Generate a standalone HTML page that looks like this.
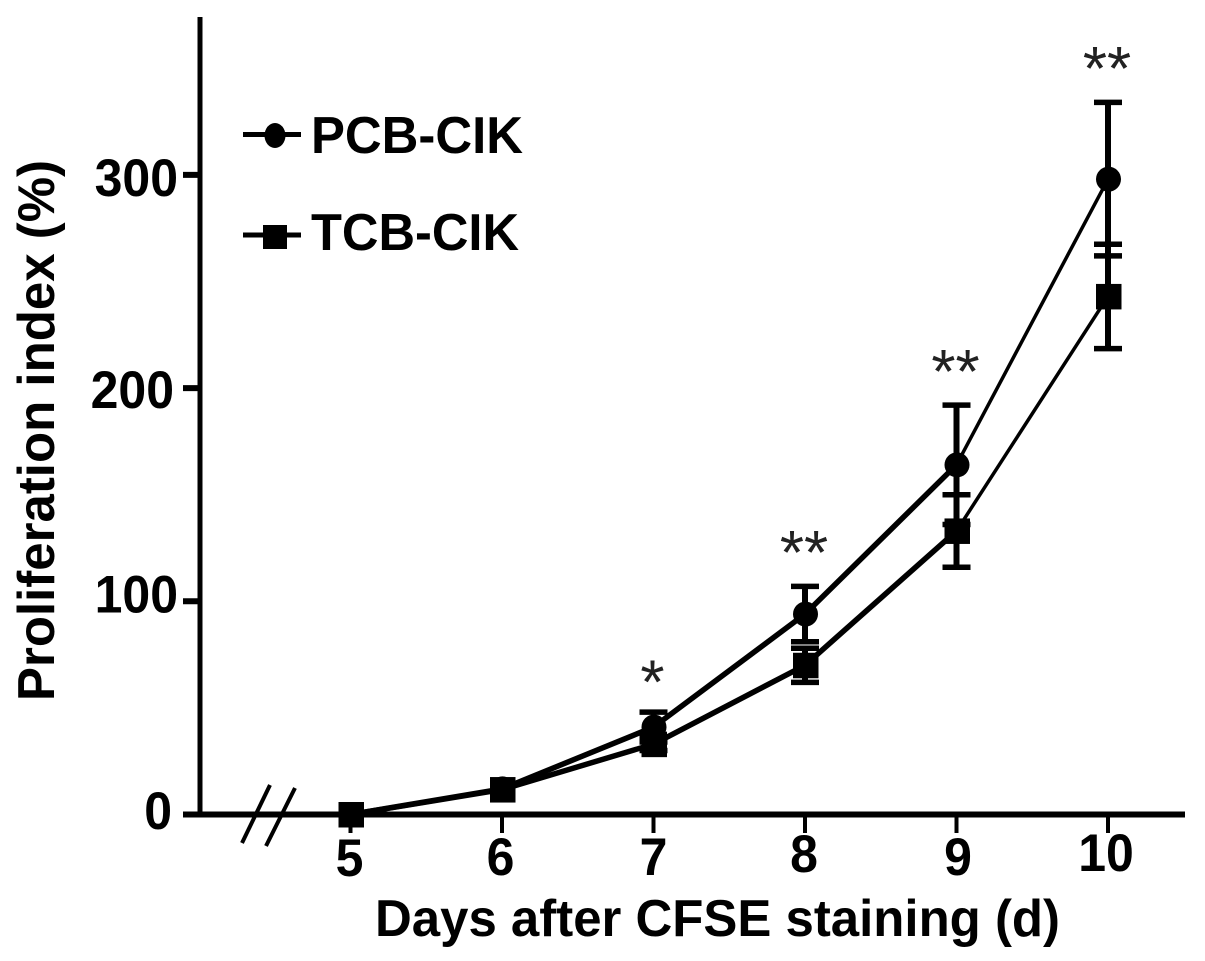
<!DOCTYPE html>
<html lang="en">
<head>
<meta charset="utf-8">
<title>Proliferation index chart</title>
<style>
html,body{margin:0;padding:0;background:#fff;width:1205px;height:961px;overflow:hidden}
svg{display:block}
text{font-family:"Liberation Sans",sans-serif;font-weight:bold;fill:#000}
</style>
</head>
<body>
<svg id="chart" xmlns="http://www.w3.org/2000/svg" width="1205" height="961" viewBox="0 0 1205 961">
  <g id="axes"></g>
  <g id="series"></g>
  <g id="sig"></g>
  <g id="legend">
    <g>
      <line x1="243" y1="134.5" x2="301" y2="134.5" stroke="#000" stroke-width="5"/>
      <ellipse cx="275" cy="135.5" rx="10.5" ry="12.5" fill="#000"/>
      <text x="311" y="153" font-size="52" textLength="212" lengthAdjust="spacingAndGlyphs">PCB-CIK</text>
    </g>
    <g>
      <line x1="243" y1="235" x2="301" y2="235" stroke="#000" stroke-width="5"/>
      <rect x="263" y="225" width="24" height="24" fill="#000"/>
      <text x="311" y="250" font-size="52" textLength="208" lengthAdjust="spacingAndGlyphs">TCB-CIK</text>
    </g>
  </g>
  <text id="ytitle" transform="translate(54,701) rotate(-90)" font-size="52" textLength="541" lengthAdjust="spacingAndGlyphs">Proliferation index (%)</text>
  <text x="375" y="936" font-size="52" textLength="685" lengthAdjust="spacingAndGlyphs">Days after CFSE staining (d)</text>
</svg>
<script>
const days = [5, 6, 7, 8, 9, 10];
const yTicks = [0, 100, 200, 300];
const pcbValues = [0, 12, 41, 94, 164, 298];
const pcbErrors = [0, 2, 7, 13, 28, 36];
const tcbValues = [0, 11.7, 33, 70, 133, 243];
const tcbErrors = [0, 2, 3, 8, 17, 24.5];
const sigDays = [7, 8, 9, 10];
const sigLabels = ['*', '**', '**', '**'];
const sigValues = [64.3, 125, 210, 352];

const NS = 'http://www.w3.org/2000/svg';
const xScale = d => 350.5 + (d - 5) * 151.5;
const yScale = v => 814.5 - v * 2.132;
const yLabelShift = v => ({0: [172, 14.5], 100: [178, 11], 200: [174, 20], 300: [178, 21]}[v] || [176, 17]);
const xLabelShift = d => ({5: [-1, 876], 6: [-1.5, 875], 7: [0, 875], 8: [-1, 872], 9: [1.5, 875], 10: [-2, 871]}[d] || [0, 875]);

function make(parent, tag, attrs, txt) {
  const el = document.createElementNS(NS, tag);
  for (const k in attrs) el.setAttribute(k, attrs[k]);
  if (txt !== undefined) el.textContent = txt;
  parent.appendChild(el);
  return el;
}

const axes = document.getElementById('axes');
const series = document.getElementById('series');
const sig = document.getElementById('sig');

let el = make(axes, 'line', {x1: 200, y1: 17, x2: 200, y2: 816, stroke: '#000', 'stroke-width': 5});



el = make(axes, 'line', {x1: 183, y1: 814.5, x2: 1185, y2: 814.5, stroke: '#000', 'stroke-width': 6});



el = make(axes, 'line', {x1: 242, y1: 843, x2: 270, y2: 785, stroke: '#000', 'stroke-width': 4});



el = make(axes, 'line', {x1: 266, y1: 846, x2: 295, y2: 788, stroke: '#000', 'stroke-width': 4});



yTicks.forEach(v => {
  const y = yScale(v);
  const t = make(axes, 'line', {x1: 183, y1: y, x2: 200, y2: y, stroke: '#000', 'stroke-width': 6});
  
  
  const s = yLabelShift(v);
  const l = make(axes, 'text', {x: 0, y: 0, 'text-anchor': 'end', 'font-size': 50, transform: `translate(${s[0]},${y + s[1]}) scale(1,1.05)`}, String(v));
  
  
});

days.forEach(d => {
  const x = xScale(d);
  const t = make(axes, 'line', {x1: x, y1: 814, x2: x, y2: 833, stroke: '#000', 'stroke-width': 4});
  
  
  const s = xLabelShift(d);
  const l = make(axes, 'text', {x: 0, y: 0, 'text-anchor': 'middle', 'font-size': 50, transform: `translate(${x + s[0]},${s[1]}) scale(1,1.05)`}, String(d));
  
  
});

function drawSeries(name, values, errors, marker) {
  const g = make(series, 'g', {});
  
  
  values.forEach((v, i) => {
    if (i < values.length - 1) {
      const seg = make(g, 'line', {
        x1: xScale(days[i]), y1: yScale(v),
        x2: xScale(days[i + 1]), y2: yScale(values[i + 1]),
        stroke: '#000', 'stroke-width': i === values.length - 2 ? 3.5 : 5.5
      });
      
      
    }
  });
  values.forEach((v, i) => {
    const x = xScale(days[i]);
    const top = yScale(v + errors[i]);
    const bot = yScale(v - errors[i]);
    if (errors[i] > 2) {
      const stem = make(g, 'line', {x1: x, y1: top, x2: x, y2: bot, stroke: '#000', 'stroke-width': 6});
      
      
      const capT = make(g, 'line', {x1: x - 14, y1: top, x2: x + 14, y2: top, stroke: '#000', 'stroke-width': 5.5});
      
      
      const capB = make(g, 'line', {x1: x - 14, y1: bot, x2: x + 14, y2: bot, stroke: '#000', 'stroke-width': 5.5});
      
      
    }
    const y = yScale(v);
    let m;
    if (marker === 'circle') {
      m = make(g, 'circle', {cx: x + 0.5, cy: y, r: 12.5, fill: '#000'});
    } else {
      m = make(g, 'rect', {x: x - 12, y: y - 12.5, width: 25.5, height: 25.5, fill: '#000'});
    }
    
    
  });
}

drawSeries('tcb', tcbValues, tcbErrors, 'square');
drawSeries('pcb', pcbValues, pcbErrors, 'circle');

sigDays.forEach((d, i) => {
  const s = make(sig, 'text', {
    x: xScale(d) - 1, y: yScale(sigValues[i]) + 26, 'text-anchor': 'middle', 'font-size': 62
  }, sigLabels[i]);
  s.setAttribute('style', 'font-weight:normal;fill:#222');
  
  
});
</script>
</body>
</html>
